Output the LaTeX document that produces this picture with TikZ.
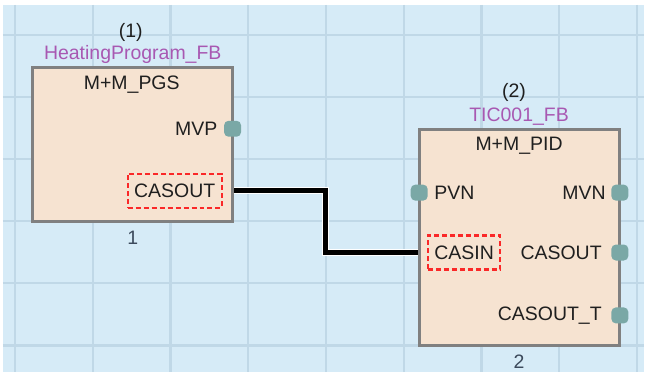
\documentclass[tikz,border=0pt]{standalone}
\usepackage{fontspec}
\setmainfont{Liberation Sans}
\usetikzlibrary{positioning}

\begin{document}
\begin{tikzpicture}[
    x=1pt, y=-1pt, font=\fontsize{19.5}{22}\selectfont,
    fb/.style={draw=fbline,line width=3pt,fill=fbfill,inner sep=0pt},
    pin/.style={fill=pinfill,rounded corners=4.5pt,minimum width=17pt,minimum height=16pt,inner sep=0pt},
    lbl/.style={inner sep=0pt,text=black!88},
    sel/.style={draw=selred,dash pattern=on 5pt off 3pt,line width=2.2pt,inner xsep=6.5pt,inner ysep=0pt,minimum height=34pt,text=black!88},
    inst/.style={inner sep=0pt,text=instname},
    num/.style={inner sep=0pt,text=numtext},
    wire/.style={line width=4.4pt,preaction={draw,white,line width=7pt}},
]
\definecolor{gridbg}{RGB}{214,235,247}   \definecolor{gridline}{RGB}{192,216,231}
\definecolor{fbfill}{RGB}{246,227,209}   \definecolor{fbline}{RGB}{128,128,128}
\definecolor{pinfill}{RGB}{122,168,166}  \definecolor{instname}{RGB}{168,88,178}
\definecolor{numtext}{RGB}{60,74,92}     \definecolor{selred}{RGB}{250,40,40}

% ================= Sheet: white rim, light blue grid =================
\fill[white] (0,0) rectangle (645,373);
\fill[gridbg] (3,5) rectangle (645,373);
\foreach \i in {0,...,8} { \draw[gridline,line width=2.4pt] (15+77.9*\i,5) -- (15+77.9*\i,373); }
\foreach \j in {0,...,5} { \draw[gridline,line width=2.4pt] (3,35+62.2*\j) -- (645,35+62.2*\j); }

% ================= Block (1): program FB =================
\node[fb,minimum width=200pt,minimum height=154pt] (pgs) at (133,145) {};
\node[lbl] (pgs idx) at (131,33) {(1)};
\node[inst] (pgs inst) at (133,55) {HeatingProgram\_FB};
\node[lbl] (pgs type) at (132,85) {M+M\_PGS};
\node[lbl,anchor=east] (pgs mvp) at (218,129) {MVP};
\node[pin] (pgs mvp pin) at (233,129) {};
\node[sel] (casout1) at (175,191) {CASOUT};
\node[num] (pgs num) at (133,238) {1};

% ================= Block (2): PID FB =================
\node[fb,minimum width=201pt,minimum height=216pt] (pid) at (520.5,238) {};
\node[lbl] (pid idx) at (515,93) {(2)};
\node[inst] (pid inst) at (520,117) {TIC001\_FB};
\node[lbl] (pid type) at (520,146) {M+M\_PID};
\node[lbl,anchor=west] (pid pvn) at (435,193) {PVN};
\node[pin] (pid pvn pin) at (420,193) {};
\node[lbl,anchor=east] (pid mvn) at (607,193) {MVN};
\node[pin] (pid mvn pin) at (621,193) {};
\node[sel] (casin2) at (465,253) {CASIN};
\node[lbl,anchor=east] (pid casout) at (603,253) {CASOUT};
\node[pin] (pid casout pin) at (621,253) {};
\node[lbl,anchor=east] (pid casoutt) at (603,316) {CASOUT\_T};
\node[pin] (pid casoutt pin) at (621,316) {};
\node[num] (pid num) at (520,362) {2};

% cascade link, jog sits on the grid column at x=326
\coordinate (jog) at (326,222);
\draw[wire] (pgs.east |- casout1) -| (jog) |- (pid.west |- casin2);

\end{tikzpicture}
\end{document}
